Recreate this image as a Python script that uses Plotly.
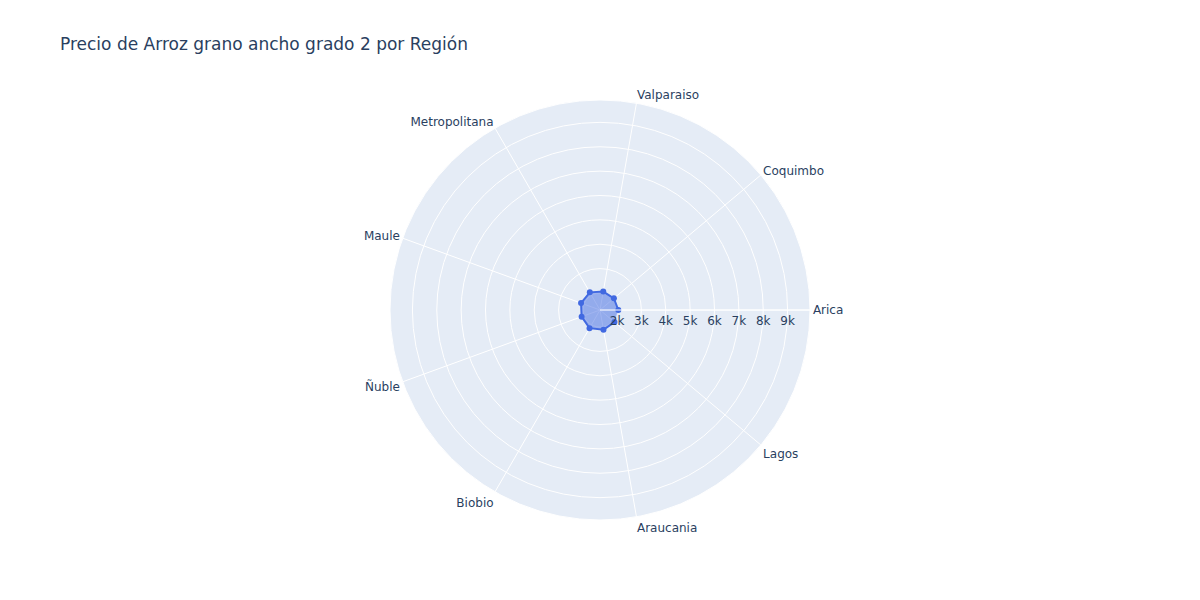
import plotly.graph_objects as go

regiones = ["Arica", "Coquimbo", "Valparaiso", "Metropolitana", "Maule",
            "Ñuble", "Biobio", "Araucania", "Lagos"]
precios = [2053, 2045, 2066, 2136, 2128, 2103, 2160, 2123, 2074]

fig = go.Figure()
fig.add_trace(go.Scatterpolar(
    r=precios,
    theta=regiones,
    fill="toself",
    mode="lines+markers",
    line=dict(color="royalblue"),
    marker=dict(color="royalblue"),
    name="Precio",
))

fig.update_layout(
    title="Precio de Arroz grano ancho grado 2 por Región",
    font=dict(family="DejaVu Sans"),
    width=1200,
    height=600,
    showlegend=False,
    polar=dict(
        radialaxis=dict(visible=True, range=[1300, 9920]),
    ),
)

fig.write_html("out.html", config={"displayModeBar": False},
               post_script="document.body.style.margin='0';")
